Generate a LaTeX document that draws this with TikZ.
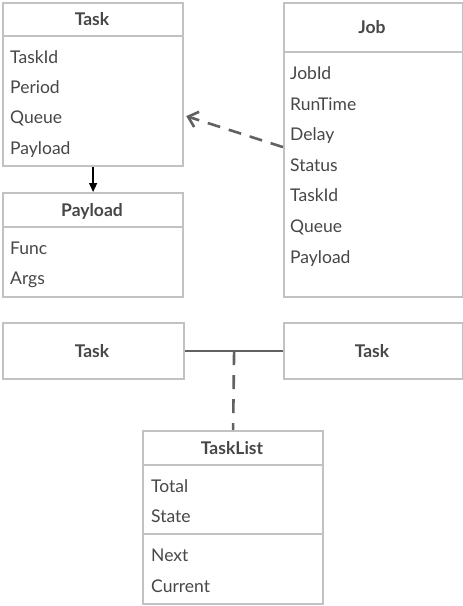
\documentclass[tikz,border=0pt]{standalone}
\usepackage{fontspec}
\setmainfont{Lato}
\usetikzlibrary{arrows.meta,calc}
\definecolor{boxc}{HTML}{C0C2C3}
\definecolor{txt}{HTML}{474747}
\definecolor{lnc}{HTML}{606162}
\begin{document}
\begin{tikzpicture}[x=1pt,y=-1pt,
  box/.style={draw=boxc, line width=2.2pt, fill=white, anchor=north west, inner sep=0pt},
  divider/.style={draw=boxc, line width=2.2pt},
  row/.style={anchor=base west, inner sep=0pt, text=txt, font=\fontsize{17.5}{19}\selectfont},
  head/.style={anchor=base, inner sep=0pt, text=txt, font=\fontsize{17.5}{19}\selectfont\bfseries},
  solidarrow/.style={draw=black, line width=1.3pt, -{Triangle[length=9pt,width=8pt]}},
  deparrow/.style={draw=lnc, line width=2.6pt, dash pattern=on 13pt off 9pt, -{Straight Barb[length=9pt,width=16pt,line width=2.6pt]}},
  assoc/.style={draw=lnc, line width=2.6pt},
  assocdash/.style={draw=lnc, line width=2.6pt, dash pattern=on 14pt off 10pt}]
\useasboundingbox (0,0) rectangle (463,606);
% boxes
\node[box, minimum width=180pt, minimum height=163pt] (task) at (2,2) {};
\node[box, minimum width=180pt, minimum height=104pt] (payload) at (2,192) {};
\node[box, minimum width=179pt, minimum height=294pt] (job) at (283,2) {};
\node[box, minimum width=181pt, minimum height=56pt] (taskL) at (2,322) {};
\node[box, minimum width=179pt, minimum height=56pt] (taskR) at (283,322) {};
\node[box, minimum width=180pt, minimum height=173pt] (tlist) at (142,430) {};
% dividers
\draw[divider] (2,36) -- (182,36);
\draw[divider] (2,227) -- (182,227);
\draw[divider] (283,52) -- (462,52);
\draw[divider] (142,465) -- (322,465);
\draw[divider] (142,534) -- (322,534);
% Task
\node[head] (taskH) at (92,25) {Task};
\node[row] (t1) at (10,63) {TaskId};
\node[row] (t2) at (10,93) {Period};
\node[row] (t3) at (10,123) {Queue};
\node[row] (t4) at (10,154) {Payload};
% Payload
\node[head] (payH) at (92,216) {Payload};
\node[row] (p1) at (10,254) {Func};
\node[row] (p2) at (10,284) {Args};
% Job
\node[head] (jobH) at (372,33) {Job};
\node[row] (j1) at (290,79) {JobId};
\node[row] (j2) at (290,110) {RunTime};
\node[row] (j3) at (290,140) {Delay};
\node[row] (j4) at (290,171) {Status};
\node[row] (j5) at (290,201) {TaskId};
\node[row] (j6) at (290,232) {Queue};
\node[row] (j7) at (290,263) {Payload};
% bottom tasks
\node[head] (tLH) at (92,357) {Task};
\node[head] (tRH) at (372,357) {Task};
% TaskList
\node[head] (tlH) at (232,454) {TaskList};
\node[row] (l1) at (151,492) {Total};
\node[row] (l2) at (151,522) {State};
\node[row] (l3) at (151,561) {Next};
\node[row] (l4) at (151,592) {Current};
% connectors
\draw[solidarrow] (task.south) -- (payload.north);
\draw[deparrow] ([yshift=3pt]job.west) -- ([yshift=-31.5pt,xshift=2pt]task.east);
\draw[assoc] (taskL.east) -- (taskR.west);
\coordinate (mid) at ($(taskL.east)!0.5!(taskR.west)$);
\draw[assocdash] (mid) -- (tlist.north);
\end{tikzpicture}
\end{document}
